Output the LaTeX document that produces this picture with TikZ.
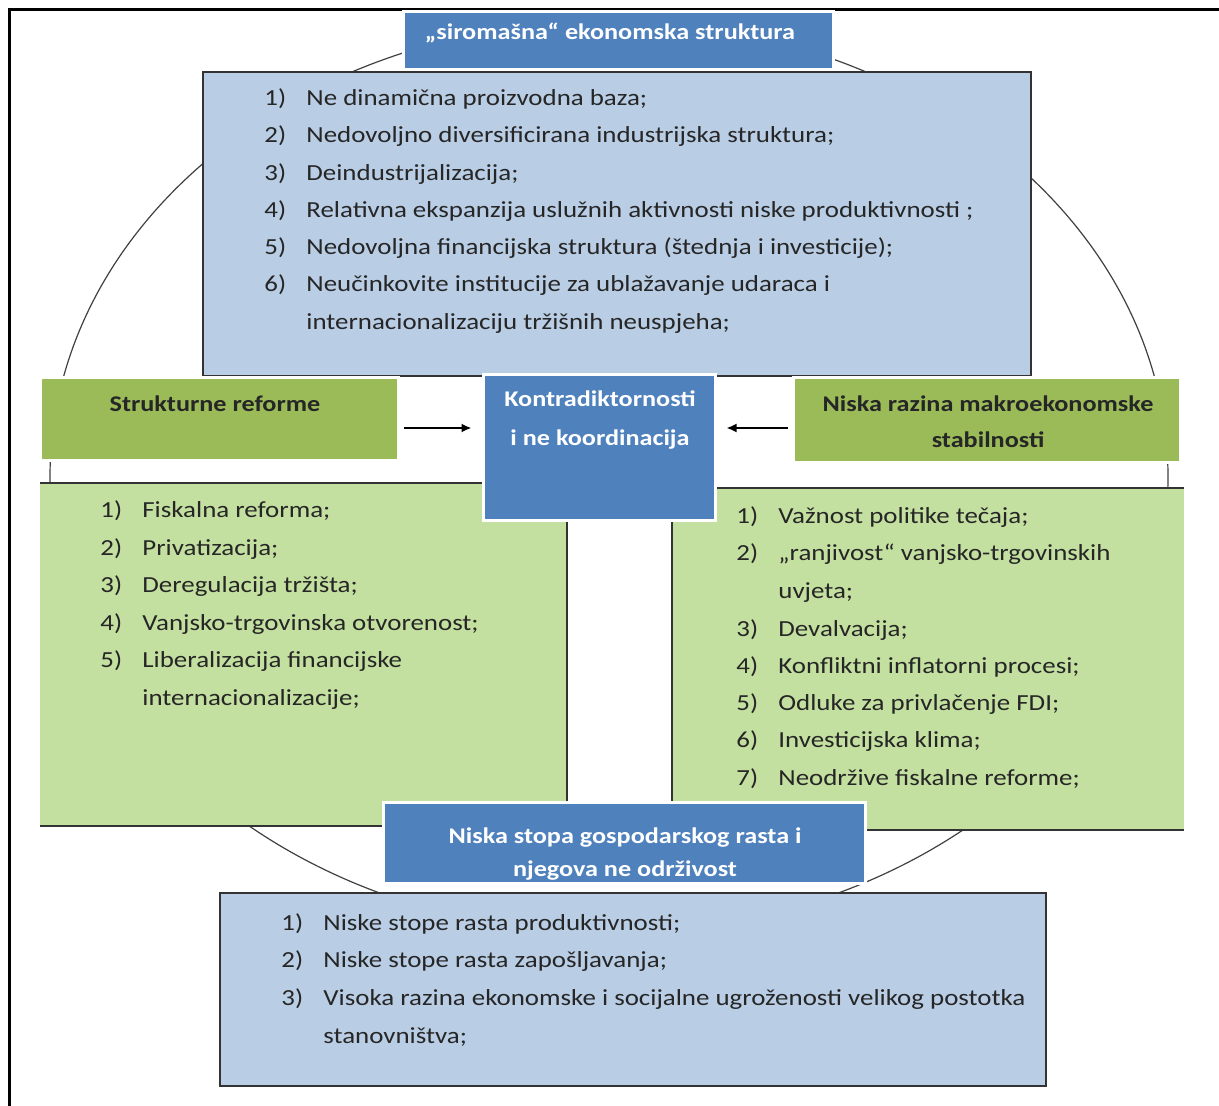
\documentclass[tikz,border=0pt]{standalone}
\usepackage{fontspec}
\setmainfont{Carlito}[FakeStretch=1.17]
\usetikzlibrary{arrows.meta,fit,shadows}

\definecolor{plava}{RGB}{79,129,189}
\definecolor{svplava}{RGB}{185,205,229}
\definecolor{maslinasta}{RGB}{155,187,89}
\definecolor{svzelena}{RGB}{196,224,160}

\newcommand{\stv}[1]{\makebox[21pt][l]{#1)}}

\tikzset{
  sjena/.style={drop shadow={shadow xshift=0.7pt,shadow yshift=-0.7pt,opacity=0.3,fill=black!50}},
  naslov/.style={fill=plava,draw=white,line width=1.5pt,inner sep=0pt,sjena},
  zaglavlje/.style={fill=maslinasta,draw=white,line width=1.5pt,inner sep=0pt,sjena},
  bijeli/.style={text=white,font=\bfseries\fontsize{11.2}{14}\selectfont,anchor=base,inner sep=0pt},
  tamni/.style={text=black!85,font=\bfseries\fontsize{11.2}{14}\selectfont,anchor=base,inner sep=0pt},
  stavka/.style={text=black!85,font=\fontsize{11.5}{14}\selectfont,anchor=base west,inner sep=0pt},
  rub/.style={draw=black!80,line width=0.8pt},
  strelica/.style={-{Latex[length=5pt,width=4.5pt]},line width=0.9pt}
}

\begin{document}
\begin{tikzpicture}[x=0.5pt,y=-0.5pt]
  \useasboundingbox (0,0) rectangle (1219,1106);

  % Vanjski okvir
  \draw[line width=1.5pt] (9,1106) -- (9,10) -- (1219,10);

  % Elipsa u pozadini
  \draw[line width=0.6pt,black!75] (609,477) ellipse [x radius=559,y radius=456];

  % Okviri s popisima
  \fill[svplava] (203,72) rectangle (1031,376);
  \draw[rub] (203,72) rectangle (1031,376);
  \fill[svzelena] (40,483) rectangle (567,826);
  \draw[rub] (40,483) -- (567,483) -- (567,826) -- (40,826);
  \fill[svzelena] (672,488) rectangle (1184,830);
  \draw[rub] (1184,488) -- (672,488) -- (672,830) -- (1184,830);
  \fill[svplava] (220,893) rectangle (1046,1086);
  \draw[rub] (220,893) rectangle (1046,1086);

  % Naslovi
  \node[naslov,fit={(403,12) (833,70)}] (gore) {};
  \node[zaglavlje,fit={(40,378) (398,460)}] (lijevo) {};
  \node[zaglavlje,fit={(793,378) (1180,462)}] (desno) {};
  \node[naslov,fit={(483,375) (715,520)}] (sredina) {};
  \node[naslov,fit={(383,802) (865,883)}] (dolje) {};

  \node[bijeli] (goreT) at (610,40) {„siromašna“ ekonomska struktura};
  \node[tamni] (lijevoT) at (215,412) {Strukturne reforme};
  \node[tamni] (desnoT1) at (988,412) {Niska razina makroekonomske};
  \node[tamni] (desnoT2) at (988,448) {stabilnosti};
  \node[bijeli] (sredinaT1) at (600,407) {Kontradiktornosti};
  \node[bijeli] (sredinaT2) at (600,445) {i ne koordinacija};
  \node[bijeli] (doljeT1) at (625,843) {Niska stopa gospodarskog rasta i};
  \node[bijeli] (doljeT2) at (625,876) {njegova ne održivost};

  % Strelice prema sredini
  \coordinate (sK) at (600,428);
  \draw[strelica,shorten <=2pt,shorten >=5pt] (lijevo.east |- sK) -- (sredina.west |- sK);
  \draw[strelica,shorten <=2pt,shorten >=5pt] (desno.west |- sK) -- (sredina.east |- sK);

  % Gornji popis
  \node[stavka] (g1) at (264,106) {\stv{1}Ne dinamična proizvodna baza;};
  \node[stavka] (g2) at (264,143) {\stv{2}Nedovoljno diversificirana industrijska struktura;};
  \node[stavka] (g3) at (264,181) {\stv{3}Deindustrijalizacija;};
  \node[stavka] (g4) at (264,218) {\stv{4}Relativna ekspanzija uslužnih aktivnosti niske produktivnosti ;};
  \node[stavka] (g5) at (264,255) {\stv{5}Nedovoljna financijska struktura (štednja i investicije);};
  \node[stavka] (g6) at (264,292) {\stv{6}Neučinkovite institucije za ublažavanje udaraca i};
  \node[stavka] (g6b) at (306,330) {internacionalizaciju tržišnih neuspjeha;};

  % Lijevi popis
  \node[stavka] (l1) at (100,517) {\stv{1}Fiskalna reforma;};
  \node[stavka] (l2) at (100,555) {\stv{2}Privatizacija;};
  \node[stavka] (l3) at (100,592) {\stv{3}Deregulacija tržišta;};
  \node[stavka] (l4) at (100,630) {\stv{4}Vanjsko-trgovinska otvorenost;};
  \node[stavka] (l5) at (100,667) {\stv{5}Liberalizacija financijske};
  \node[stavka] (l5b) at (142,705) {internacionalizacije;};

  % Desni popis
  \node[stavka] (d1) at (736,523) {\stv{1}Važnost politike tečaja;};
  \node[stavka] (d2) at (736,560) {\stv{2}„ranjivost“ vanjsko-trgovinskih};
  \node[stavka] (d2b) at (778,598) {uvjeta;};
  \node[stavka] (d3) at (736,636) {\stv{3}Devalvacija;};
  \node[stavka] (d4) at (736,673) {\stv{4}Konfliktni inflatorni procesi;};
  \node[stavka] (d5) at (736,710) {\stv{5}Odluke za privlačenje FDI;};
  \node[stavka] (d6) at (736,747) {\stv{6}Investicijska klima;};
  \node[stavka] (d7) at (736,785) {\stv{7}Neodržive fiskalne reforme;};

  % Donji popis
  \node[stavka] (p1) at (281,930) {\stv{1}Niske stope rasta produktivnosti;};
  \node[stavka] (p2) at (281,967) {\stv{2}Niske stope rasta zapošljavanja;};
  \node[stavka] (p3) at (281,1005) {\stv{3}Visoka razina ekonomske i socijalne ugroženosti velikog postotka};
  \node[stavka] (p3b) at (323,1043) {stanovništva;};
\end{tikzpicture}
\end{document}
